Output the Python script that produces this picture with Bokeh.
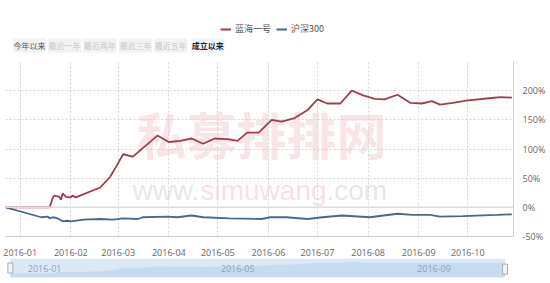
import pandas as pd
from bokeh.plotting import figure
from bokeh.layouts import column
from bokeh.models import (Range1d, Legend, LegendItem, FixedTicker, MonthsTicker,
                          DatetimeTickFormatter, PrintfTickFormatter, Span, ColumnDataSource)
from bokeh.core.properties import value
from bokeh.embed import file_html
from bokeh.resources import INLINE

# ---------------- data ----------------
series_names = ["蓝海一号", "沪深300"]
red_dates = ["2015-12-23", "2016-01-19", "2016-01-21", "2016-01-22", "2016-01-25", "2016-01-26",
             "2016-01-27", "2016-01-29", "2016-02-01", "2016-02-02", "2016-02-04", "2016-02-19",
             "2016-02-25", "2016-02-29", "2016-03-04", "2016-03-10", "2016-03-25", "2016-04-01",
             "2016-04-08", "2016-04-15", "2016-04-22", "2016-04-29", "2016-05-07", "2016-05-13",
             "2016-05-19", "2016-05-26", "2016-06-03", "2016-06-09", "2016-06-17", "2016-06-25",
             "2016-07-01", "2016-07-07", "2016-07-15", "2016-07-22", "2016-07-29", "2016-08-05",
             "2016-08-11", "2016-08-19", "2016-08-27", "2016-09-03", "2016-09-09", "2016-09-14",
             "2016-09-22", "2016-09-30", "2016-10-14", "2016-10-21", "2016-10-28"]
red_vals = [0, 0, 17, 20, 18, 13, 24, 18, 17, 20, 17, 34, 52, 71, 91, 87, 123, 112, 114, 118,
            109, 118, 117, 114, 128, 128, 150, 147, 153, 167, 185, 178, 178, 200, 192, 186, 185,
            193, 179, 178, 182, 176, 179, 183, 187, 189, 188]

blue_dates = ["2015-12-23", "2016-01-14", "2016-01-18", "2016-01-19", "2016-01-21", "2016-01-24",
              "2016-01-27", "2016-01-30", "2016-02-01", "2016-02-09", "2016-02-19", "2016-02-27",
              "2016-03-04", "2016-03-13", "2016-03-16", "2016-03-31", "2016-04-06", "2016-04-15",
              "2016-04-22", "2016-05-08", "2016-05-28", "2016-06-02", "2016-06-12", "2016-06-25",
              "2016-07-04", "2016-07-16", "2016-08-02", "2016-08-19", "2016-08-28", "2016-09-08",
              "2016-09-14", "2016-09-28", "2016-10-19", "2016-10-28"]
blue_vals = [0, -17, -16, -19, -17, -19, -24, -23, -24, -21, -20, -21, -19, -20, -17, -16, -17,
             -14, -17, -19, -20, -17, -17, -20, -17, -14, -17, -11, -13, -13, -16, -15, -13, -12]

y_ticks = [-50, 0, 50, 100, 150, 200, 250]
button_labels = ["今年以来", "最近一年", "最近两年", "最近三年", "最近五年", "成立以来"]
nav_labels = ["2016-01", "2016-05", "2016-09"]
x_start, x_end = "2015-12-23", "2016-10-29"

RED = "#a23b4c"
BLUE = "#46698a"

red_x = pd.to_datetime(red_dates)
blue_x = pd.to_datetime(blue_dates)
t0, t1 = pd.Timestamp(x_start), pd.Timestamp(x_end)

# ---------------- header (legend + range buttons) ----------------
hp = figure(width=550, height=55, x_range=Range1d(0, 550), y_range=Range1d(55, 0),
            output_backend="svg", toolbar_location=None, x_axis_type=None, y_axis_type=None,
            min_border=0, min_border_left=0, min_border_right=0, min_border_top=0,
            min_border_bottom=0, outline_line_color=None)
hp.grid.visible = False
# off-screen dummy lines that only feed the legend
r1 = hp.line(x=[-50, -40], y=[-50, -50], color=RED, line_width=2)
r2 = hp.line(x=[-50, -40], y=[-50, -50], color=BLUE, line_width=2)
leg = Legend(items=[LegendItem(label=series_names[0], renderers=[r1]),
                    LegendItem(label=series_names[1], renderers=[r2])],
             orientation="horizontal", location=(215, 20), padding=0, margin=0,
             glyph_width=11, glyph_height=12, label_height=12, label_standoff=4, spacing=5,
             border_line_color=None, background_fill_alpha=0,
             label_text_font="Noto Sans CJK SC", label_text_font_size="9px",
             label_text_color="#555555")
hp.add_layout(leg)

bx = [26, 64, 102, 141, 179, 219]
bcol = ["#555555", "#c8c8c8", "#c8c8c8", "#c8c8c8", "#c8c8c8", "#222233"]
bstyle = ["normal", "normal", "normal", "normal", "normal", "bold"]
hp.rect(x=bx, y=[45] * 6, width=36, height=14, fill_color="#f2f2f2", line_color=None)
hsrc = ColumnDataSource(dict(x=bx, y=[45] * 6, t=button_labels, c=bcol, s=bstyle))
hp.text(x="x", y="y", text="t", text_color="c", text_font_style="s", source=hsrc,
        text_align="center", text_baseline="middle", text_font=value("Noto Sans CJK SC"),
        text_font_size="8px")

# ---------------- main chart ----------------
p = figure(width=550, height=203, x_axis_type="datetime", y_axis_location="right",
           x_range=Range1d(t0, t1), y_range=Range1d(-50, 250),
           output_backend="svg", toolbar_location=None,
           min_border_left=5, min_border_right=37, min_border_top=6, min_border_bottom=20,
           outline_line_color=None)
p.extra_x_ranges = {"px": Range1d(5, 513)}
p.extra_y_ranges = {"px": Range1d(238, 61)}

# watermark
p.text(x=[261], y=[133], text=["私募排排网"], x_range_name="px", y_range_name="px",
       text_align="center", text_baseline="middle", text_font=value("Noto Sans CJK SC"),
       text_font_style="bold", text_font_size="50px", text_color="#f0bcc4", text_alpha=0.4)
p.text(x=[132, 200, 326], y=[191, 191, 191], text=["www.", "simuwang", ".com"],
       x_range_name="px", y_range_name="px", text_align="left", text_baseline="alphabetic",
       text_font=value("Liberation Sans"), text_font_size="28px",
       text_color=["#ddd5d7", "#f0cdd3", "#ddd5d7"], text_alpha=0.6)

p.line(x=blue_x, y=blue_vals, color=BLUE, line_width=1.8)
p.line(x=red_x, y=red_vals, color=RED, line_width=1.8)

p.add_layout(Span(location=0, dimension="width", line_color="#dddddd", line_width=1.5))

p.yaxis.ticker = FixedTicker(ticks=y_ticks)
p.yaxis.formatter = PrintfTickFormatter(format="%d%%")
p.yaxis.major_label_overrides = {250: ""}
p.xaxis.ticker = MonthsTicker(months=list(range(12)))
p.xaxis.formatter = DatetimeTickFormatter(months="%Y-%m", days="%Y-%m")
for ax in (p.xaxis, p.yaxis):
    ax.axis_line_color = "#cccccc"
    ax.major_tick_line_color = None
    ax.minor_tick_line_color = None
    ax.major_label_text_font = "Open Sans"
    ax.major_label_text_font_size = "9px"
    ax.major_label_text_color = "#666666"
p.xaxis.major_label_standoff = 6
p.yaxis.major_label_standoff = 3
p.grid.grid_line_color = "#d4d4d4"
p.grid.grid_line_dash = "2 2"

# ---------------- navigator ----------------
pxday = 508 / ((t1 - t0) / pd.Timedelta(days=1))
n0 = t0 - pd.Timedelta(days=5 / pxday)
n1 = t1 + pd.Timedelta(days=7 / pxday)
np_ = figure(width=550, height=25, x_range=Range1d(n0, n1), y_range=Range1d(-80, 260),
             output_backend="svg", toolbar_location=None, x_axis_type=None, y_axis_type=None,
             min_border_left=0, min_border_right=30, min_border_top=0, min_border_bottom=6,
             outline_line_color=None, background_fill_color="#ffffff")
np_.grid.visible = False
np_.quad(left=[t0], right=[red_x[-1]], bottom=[-80], top=[260], fill_color="#dce9f5",
         line_color=None)
np_.varea(x=red_x, y1=[-80] * len(red_vals), y2=red_vals, fill_color="#c6dbee")
np_.text(x=pd.to_datetime(nav_labels), y=[90] * 3, text=nav_labels, x_offset=3,
         text_align="left", text_baseline="middle", text_font=value("Open Sans"),
         text_font_size="9px", text_color="#8aa3bd")
np_.rect(x=[t0, red_x[-1]], y=[90, 70], width=5, height=10, width_units="screen",
         height_units="screen", fill_color="#f4f4f4", line_color="#aaaaaa")

layout = column(hp, p, np_, spacing=0)
open("out.html", "w").write(file_html(layout, INLINE))
